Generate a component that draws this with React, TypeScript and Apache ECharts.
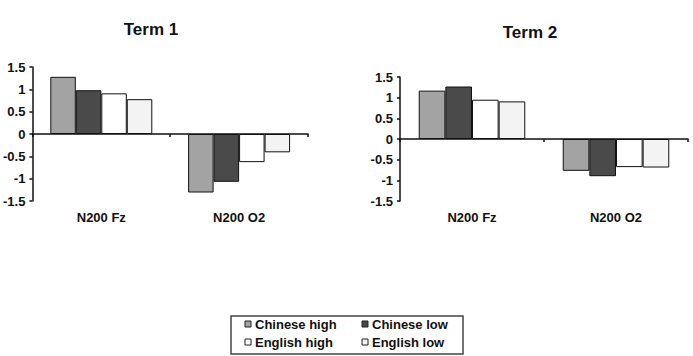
import React, { useEffect, useRef } from "react";
import * as echarts from "echarts";

const categories = ["N200 Fz", "N200 O2"];
const seriesNames = ["Chinese high", "Chinese low", "English high", "English low"];
const seriesColors = ["#a3a3a3", "#4a4a4a", "#ffffff", "#f3f3f3"];

// Term 1 amplitudes per group
const term1ChineseHigh = [1.28, -1.31];
const term1ChineseLow = [0.98, -1.07];
const term1EnglishHigh = [0.91, -0.63];
const term1EnglishLow = [0.78, -0.41];

// Term 2 amplitudes per group
const term2ChineseHigh = [1.17, -0.77];
const term2ChineseLow = [1.27, -0.9];
const term2EnglishHigh = [0.95, -0.68];
const term2EnglishLow = [0.91, -0.69];

const FONT = "'Liberation Sans', Arial, Helvetica, sans-serif";

// legend key slots: [column x, row y] for each series, in seriesNames order
const legendSlots: [number, number][] = [
  [245, 324],
  [362, 324],
  [245, 342],
  [362, 342],
];

export default function App() {
  const ref = useRef<HTMLDivElement>(null);

  useEffect(() => {
    if (!ref.current) return;
    const chart = echarts.init(ref.current, undefined, { renderer: "svg" });

    const term1 = [term1ChineseHigh, term1ChineseLow, term1EnglishHigh, term1EnglishLow];
    const term2 = [term2ChineseHigh, term2ChineseLow, term2EnglishHigh, term2EnglishLow];

    const makeSeries = (values: number[][], gridIndex: number) =>
      values.map((data, i) => ({
        name: seriesNames[i],
        type: "bar" as const,
        xAxisIndex: gridIndex,
        yAxisIndex: gridIndex,
        data,
        barGap: "0%",
        barCategoryGap: "26%",
        itemStyle: {
          color: seriesColors[i],
          borderColor: "#111",
          borderWidth: 1,
        },
      }));

    const axisLine = { lineStyle: { color: "#111", width: 1.5 } };

    const makeX = (gridIndex: number) => ({
      type: "category" as const,
      gridIndex,
      data: categories,
      axisLine: { ...axisLine, onZero: true },
      axisTick: { show: true, length: 3, alignWithLabel: false, lineStyle: { color: "#111", width: 1.5 } },
      axisLabel: {
        margin: 10,
        color: "#111",
        fontFamily: FONT,
        fontWeight: "bold" as const,
        fontSize: 13,
      },
      splitLine: { show: false },
    });

    const makeY = (gridIndex: number) => ({
      type: "value" as const,
      gridIndex,
      min: -1.5,
      max: 1.5,
      interval: 0.5,
      axisLine: { show: true, ...axisLine },
      axisTick: { show: true, length: 3, lineStyle: { color: "#111", width: 1.5 } },
      axisLabel: {
        margin: 7,
        color: "#111",
        fontFamily: FONT,
        fontWeight: "bold" as const,
        fontSize: 13,
      },
      splitLine: { show: false },
    });

    const legendGraphics: any[] = [
      {
        type: "rect",
        shape: { x: 231, y: 316, width: 232, height: 38 },
        style: { fill: "#fff", stroke: "#444", lineWidth: 1.5 },
      },
    ];
    seriesNames.forEach((name, i) => {
      const [x, y] = legendSlots[i];
      legendGraphics.push({
        type: "rect",
        shape: { x, y: y - 3, width: 6, height: 6 },
        style: { fill: seriesColors[i], stroke: "#222", lineWidth: 1 },
      });
      legendGraphics.push({
        type: "text",
        x: x + 10,
        y,
        style: {
          text: name,
          fill: "#111",
          font: `bold 13px ${FONT}`,
          verticalAlign: "middle",
          align: "left",
        },
      });
    });

    chart.setOption({
      animation: false,
      backgroundColor: "#ffffff",
      title: [
        {
          text: "Term 1",
          left: 146,
          top: 16,
          textAlign: "center",
          textStyle: { fontFamily: FONT, fontWeight: "bold", fontSize: 17, color: "#111" },
        },
        {
          text: "Term 2",
          left: 525,
          top: 19,
          textAlign: "center",
          textStyle: { fontFamily: FONT, fontWeight: "bold", fontSize: 17, color: "#111" },
        },
      ],
      grid: [
        { left: 32, right: 385, top: 67, bottom: 155 },
        { left: 400, right: 5, top: 77, bottom: 155 },
      ],
      xAxis: [makeX(0), makeX(1)],
      yAxis: [makeY(0), makeY(1)],
      graphic: legendGraphics,
      series: [...makeSeries(term1, 0), ...makeSeries(term2, 1)],
    });

    return () => chart.dispose();
  }, []);

  return (
    <div
      ref={ref}
      style={{ position: "fixed", left: 0, top: 0, width: 693, height: 356 }}
    />
  );
}
